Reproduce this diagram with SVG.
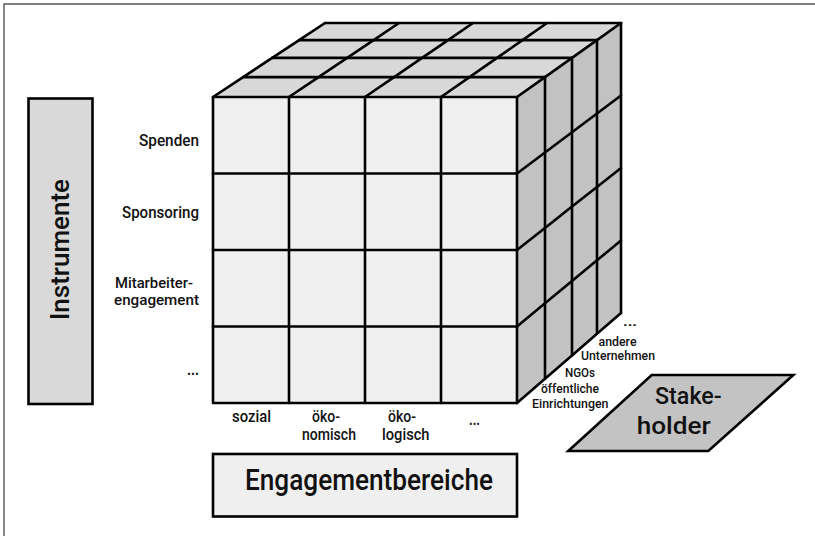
<svg xmlns="http://www.w3.org/2000/svg" width="815" height="536" viewBox="0 0 815 536">
<style>
text{font-family:Roboto,"Liberation Sans",sans-serif;font-weight:500;fill:#111;}
.ln{fill:none;stroke:#000;stroke-width:2.6;stroke-linejoin:round;stroke-linecap:round;}
.box{stroke:#000;stroke-width:2.6;}
.s16{font-size:16.5px;}
.s12{font-size:12.5px;}
.dots{font-weight:bold;}
</style>
<rect width="815" height="536" fill="#fff"/>
<path d="M4,536 V4 H815" fill="none" stroke="#555" stroke-width="1.4"/>

<g id="cube">
  <polygon points="213,97 517,97 621,23 325,23" fill="#d8d8d8"/>
  <polygon points="517,97 621,23 621,313 517,403" fill="#c2c2c2"/>
  <rect x="213" y="97" width="304" height="306" fill="#f0f0f0"/>
  <g class="ln">
    <polyline points="213,97 243.15,77.08 272.2,57.87 299.15,40.08 325,23"/>
    <polyline points="289,97 318.6,77.08 347.15,57.87 373.6,40.08 399,23"/>
    <polyline points="365,97 394.1,77.08 422.1,57.87 448.1,40.08 473,23"/>
    <polyline points="441,97 469.5,77.08 497.05,57.87 522.5,40.08 547,23"/>
    <polyline points="517,97 545,77.08 572,57.87 597,40.08 621,23"/>
    <line x1="243.15" y1="77.08" x2="545" y2="77.08"/>
    <line x1="272.2" y1="57.87" x2="572" y2="57.87"/>
    <line x1="299.15" y1="40.08" x2="597" y2="40.08"/>
    <line x1="325" y1="23" x2="621" y2="23"/>
  </g>
  <g class="ln">
    <line x1="545" y1="77.08" x2="545" y2="378.77"/>
    <line x1="572" y1="57.87" x2="572" y2="355.4"/>
    <line x1="597" y1="40.08" x2="597" y2="333.77"/>
    <line x1="621" y1="23" x2="621" y2="313"/>
    <polyline points="517,173.5 545,152.5 572,132.25 597,113.5 621,95.5"/>
    <polyline points="517,250 545,227.9 572,206.6 597,186.9 621,168"/>
    <polyline points="517,326.5 545,303.35 572,281 597,260.35 621,240.5"/>
    <polyline points="517,403 545,378.77 572,355.4 597,333.77 621,313"/>
  </g>
  <g class="ln">
    <rect x="213" y="97" width="304" height="306"/>
    <line x1="289" y1="97" x2="289" y2="403"/>
    <line x1="365" y1="97" x2="365" y2="403"/>
    <line x1="441" y1="97" x2="441" y2="403"/>
    <line x1="213" y1="173.5" x2="517" y2="173.5"/>
    <line x1="213" y1="250" x2="517" y2="250"/>
    <line x1="213" y1="326.5" x2="517" y2="326.5"/>
  </g>
</g>

<g id="instrument-labels" class="s16">
  <text x="139" y="145.5" textLength="60" lengthAdjust="spacingAndGlyphs">Spenden</text>
  <text x="122" y="218" textLength="77" lengthAdjust="spacingAndGlyphs">Sponsoring</text>
  <text x="115" y="287.5" font-size="15" textLength="78" lengthAdjust="spacingAndGlyphs">Mitarbeiter-</text>
  <text x="114" y="304.5" font-size="15" textLength="85" lengthAdjust="spacingAndGlyphs">engagement</text>
  <text class="dots" x="187" y="375" textLength="12" lengthAdjust="spacingAndGlyphs">...</text>
</g>

<g id="bereich-labels" class="s16">
  <text x="232" y="421.7" textLength="39" lengthAdjust="spacingAndGlyphs">sozial</text>
  <text x="312" y="421.7" textLength="28" lengthAdjust="spacingAndGlyphs">öko-</text>
  <text x="302" y="440" textLength="54" lengthAdjust="spacingAndGlyphs">nomisch</text>
  <text x="388" y="421.7" textLength="28" lengthAdjust="spacingAndGlyphs">öko-</text>
  <text x="382" y="440" textLength="47.5" lengthAdjust="spacingAndGlyphs">logisch</text>
  <text class="dots" x="469" y="425" textLength="11" lengthAdjust="spacingAndGlyphs">...</text>
</g>

<g id="stakeholder-labels" class="s12">
  <text class="dots" x="623" y="326" textLength="14" lengthAdjust="spacingAndGlyphs">...</text>
  <text x="598.5" y="346" textLength="38" lengthAdjust="spacingAndGlyphs">andere</text>
  <text x="581" y="360" textLength="74" lengthAdjust="spacingAndGlyphs">Unternehmen</text>
  <text x="565" y="377.3" textLength="30" lengthAdjust="spacingAndGlyphs">NGOs</text>
  <text x="541" y="393.3" textLength="58" lengthAdjust="spacingAndGlyphs">öffentliche</text>
  <text x="532" y="407.7" textLength="76.5" lengthAdjust="spacingAndGlyphs">Einrichtungen</text>
</g>

<g id="instrumente">
  <rect class="box" x="28.5" y="98.5" width="64" height="305.5" fill="#d9d9d9"/>
  <text transform="translate(69.3,249.5) rotate(-90)" text-anchor="middle" font-size="26" textLength="141" lengthAdjust="spacingAndGlyphs">Instrumente</text>
</g>

<g id="engagementbereiche">
  <rect class="box" x="213" y="454" width="304" height="62.5" fill="#efefef"/>
  <text x="245" y="490" font-size="30" textLength="248" lengthAdjust="spacingAndGlyphs">Engagementbereiche</text>
</g>

<g id="stakeholder">
  <polygon class="box" points="651.7,375 793.3,375 708.3,451 568.3,451" fill="#c3c3c3"/>
  <text x="655" y="404" font-size="24" textLength="66.7" lengthAdjust="spacingAndGlyphs">Stake-</text>
  <text x="636.7" y="434" font-size="24" textLength="74" lengthAdjust="spacingAndGlyphs">holder</text>
</g>
</svg>
